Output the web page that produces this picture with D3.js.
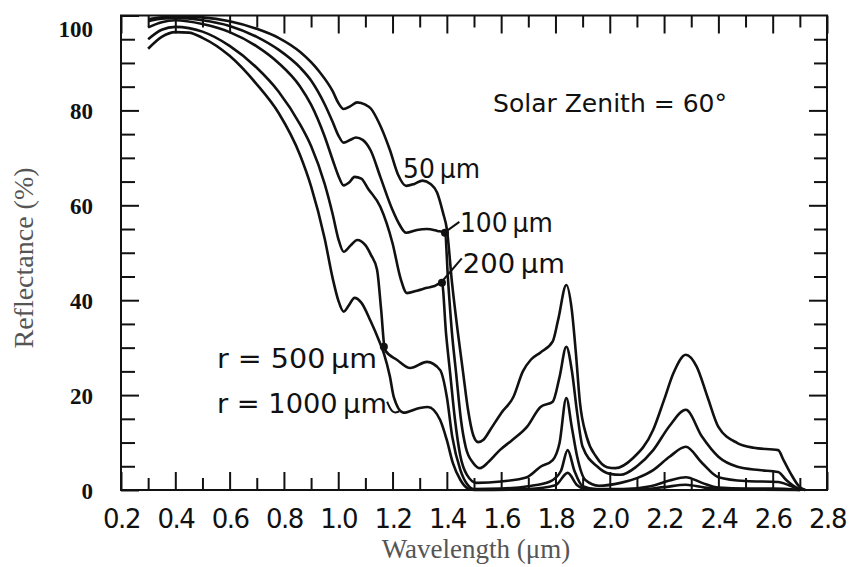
<!DOCTYPE html>
<html>
<head>
<meta charset="utf-8">
<script src="https://cdn.jsdelivr.net/npm/d3@7"></script>
<style>
  body { margin: 0; background: #fff; }
  svg { display: block; }
</style>
</head>
<body>
<svg id="chart" width="849" height="567"></svg>
<script>
// reflectance (%) vs wavelength (um), one list per grain radius
const r50 = [
  [0.30,99.2],[0.35,99.6],[0.40,99.8],[0.50,99.6],[0.60,98.8],[0.70,97.2],[0.78,95.3],[0.86,92.3],
  [0.93,88.2],[0.98,84],[1.00,81.6],[1.02,80.3],[1.045,80.9],[1.07,81.7],[1.10,81.2],[1.12,80.4],
  [1.15,77.4],[1.19,71.7],[1.22,66.5],[1.25,64.1],[1.28,64.5],[1.31,65.2],[1.34,64.5],[1.364,62.7],
  [1.386,58.4],[1.40,55],[1.419,43.7],[1.441,33],[1.46,24.7],[1.478,16.9],[1.497,11.6],[1.515,10.1],
  [1.535,10.6],[1.56,12.7],[1.60,16.2],[1.645,19.6],[1.68,25],[1.71,27.5],[1.745,29],[1.79,31.3],
  [1.81,35.9],[1.84,43.2],[1.86,38],[1.875,29],[1.89,18.5],[1.915,11.2],[1.95,7],[1.99,4.8],
  [2.02,4.6],[2.085,6.7],[2.16,12.7],[2.20,19],[2.235,24.7],[2.28,28.5],[2.32,26],[2.36,19.6],
  [2.40,13.3],[2.47,9.9],[2.53,8.9],[2.62,8.4],[2.64,6.3],[2.665,3.6],[2.70,0.6],[2.72,0]
];
const r100 = [
  [0.30,98.8],[0.35,99.3],[0.40,99.5],[0.50,99],[0.60,97.8],[0.70,95.5],[0.78,92.8],[0.86,89],
  [0.90,86.3],[0.95,81.3],[0.98,77.5],[1.00,74.8],[1.02,73.2],[1.045,73.8],[1.065,74.3],[1.09,73.8],
  [1.12,71.5],[1.155,66],[1.20,59],[1.225,56],[1.25,54.2],[1.29,54.8],[1.327,55],[1.365,54.6],
  [1.393,54.2],[1.405,43.7],[1.419,33],[1.434,24.7],[1.452,14.8],[1.47,8.9],[1.497,5.7],[1.522,4.6],
  [1.555,6],[1.595,8.4],[1.64,10.5],[1.695,13.3],[1.745,17.5],[1.79,18.6],[1.815,23.8],[1.84,30.2],
  [1.86,25.3],[1.88,16.2],[1.90,9.1],[1.955,4.9],[2.00,3.4],[2.04,3.2],[2.10,5],[2.16,8.4],
  [2.22,13.5],[2.28,16.9],[2.34,11.2],[2.40,7],[2.47,4.9],[2.55,4.2],[2.62,3.8],[2.65,2.1],
  [2.69,0.4],[2.72,0]
];
const r200 = [
  [0.30,97.5],[0.35,98.6],[0.40,99],[0.50,98.2],[0.60,96.5],[0.70,93.5],[0.78,90],[0.86,85],
  [0.90,81.2],[0.95,74.5],[0.98,69.5],[1.00,66.3],[1.02,64.2],[1.04,64.8],[1.06,66],[1.085,65.6],
  [1.11,63.5],[1.155,59.7],[1.20,52],[1.23,44.5],[1.253,41.5],[1.29,42],[1.327,42.6],[1.355,43],
  [1.382,43.7],[1.397,33],[1.412,24.7],[1.43,14.8],[1.449,7.4],[1.474,3.2],[1.51,1.5],[1.60,1.8],
  [1.695,2.7],[1.745,4.9],[1.79,6.3],[1.815,9.9],[1.84,19.4],[1.86,13.3],[1.88,7],[1.91,2.1],
  [1.96,0.9],[2.04,1.5],[2.10,2.5],[2.16,4.2],[2.22,7],[2.28,9.1],[2.34,5.7],[2.40,2.7],
  [2.50,1.9],[2.62,1.7],[2.66,1],[2.70,0]
];
const r500 = [
  [0.30,95],[0.35,97],[0.40,97.6],[0.50,96.6],[0.60,93.6],[0.70,89],[0.78,84],[0.86,77],
  [0.90,72.5],[0.95,64.5],[0.98,58],[1.00,53],[1.02,50.2],[1.045,51.5],[1.07,52.7],[1.10,51.6],
  [1.12,49.6],[1.143,46.4],[1.158,38],[1.172,29.5],[1.217,27.4],[1.265,25.7],[1.327,27],[1.375,25.3],
  [1.40,19.6],[1.42,11.2],[1.45,4.2],[1.475,1.2],[1.50,0.2],[1.60,0.3],[1.70,0.8],[1.78,1.8],
  [1.82,4],[1.845,8.4],[1.87,4],[1.90,0.8],[1.95,0.2],[2.05,0.2],[2.15,0.8],[2.22,2],
  [2.28,2.7],[2.34,1.5],[2.40,0.5],[2.50,0.3],[2.60,0.3],[2.70,0]
];
const r1000 = [
  [0.30,93],[0.35,95.5],[0.40,96.5],[0.45,96.4],[0.50,95.3],[0.60,91.5],[0.70,85.5],[0.78,79.5],
  [0.86,70.5],[0.90,64],[0.95,53],[0.98,44.5],[1.00,40],[1.02,37.6],[1.04,39],[1.06,40.5],
  [1.085,39.5],[1.12,35.5],[1.15,31.5],[1.168,28.8],[1.19,24],[1.205,19.5],[1.24,16.3],[1.30,17.3],
  [1.33,17.5],[1.375,14.8],[1.40,10.5],[1.422,5.7],[1.45,2.1],[1.475,0.4],[1.50,0],[1.70,0.2],
  [1.80,1],[1.845,3.6],[1.88,1],[1.92,0.1],[2.10,0.1],[2.20,0.6],[2.28,1.1],[2.35,0.5],
  [2.45,0.1],[2.70,0]
];

const seriesList = [r50, r100, r200, r500, r1000];

const xMajor = [0.2, 0.4, 0.6, 0.8, 1.0, 1.2, 1.4, 1.6, 1.8, 2.0, 2.2, 2.4, 2.6, 2.8];
const xTickLabels = ["0.2", "0.4", "0.6", "0.8", "1.0", "1.2", "1.4", "1.6", "1.8", "2.0", "2.2", "2.4", "2.6", "2.8"];
const xMinor = [0.3, 0.5, 0.7, 0.9, 1.1, 1.3, 1.5, 1.7, 1.9, 2.1, 2.3, 2.5, 2.7];
const yMajor = [0, 20, 40, 60, 80, 100];
const yMinor = [5, 10, 15, 25, 30, 35, 45, 50, 55, 65, 70, 75, 85, 90, 95];

// curve labels: text, start wavelength, baseline reflectance, width
const labels = [
  { text: "50\u2009\u03bcm", wl: 1.2385, r: 65.8, w: 77 },
  { text: "100\u2009\u03bcm", wl: 1.448, r: 54.4, w: 93 },
  { text: "200\u2009\u03bcm", wl: 1.459, r: 45.7, w: 102 },
  { text: "r = 500\u2009\u03bcm", wl: 0.5535, r: 25.7, w: 160 },
  { text: "r = 1000\u2009\u03bcm", wl: 0.5535, r: 16.2, w: 170 }
];
// pointer dots on curves
const dots = [[1.393, 54.2], [1.382, 43.7], [1.168, 30.2]];
// pointer lines [from, to]
const pointers = [
  [[1.400, 54.6], [1.446, 56.5]],
  [[1.386, 44.2], [1.455, 48.8]]
];

const svg = d3.select("#chart");
const x = d3.scaleLinear().domain([0.2, 2.8]).range([121, 827]);
const y = d3.scaleLinear().domain([0, 100]).range([490, 15.5]);

const tickFont = "'DejaVu Sans', sans-serif";

// frame
svg.append("rect")
  .attr("x", x(0.2)).attr("y", y(100))
  .attr("width", x(2.8) - x(0.2)).attr("height", y(0) - y(100))
  .attr("fill", "none").attr("stroke", "#111").attr("stroke-width", 2);

function styleAxis(g) {
  g.select(".domain").remove();
  g.selectAll(".tick line").attr("stroke", "#111").attr("stroke-width", 2);
}

// bottom
svg.append("g").attr("transform", `translate(0,${y(0)})`)
  .call(d3.axisBottom(x).tickValues(xMajor).tickSizeInner(-18).tickSizeOuter(0).tickPadding(20)
    .tickFormat((d, i) => xTickLabels[i]))
  .call(styleAxis)
  .call(g => g.selectAll("text").attr("font-family", tickFont).attr("font-size", 26)
    .attr("fill", "#111").attr("letter-spacing", -1.5));
svg.append("g").attr("transform", `translate(0,${y(0)})`)
  .call(d3.axisBottom(x).tickValues(xMinor).tickSizeInner(-12).tickSizeOuter(0).tickFormat(""))
  .call(styleAxis);
// top
svg.append("g").attr("transform", `translate(0,${y(100)})`)
  .call(d3.axisTop(x).tickValues(xMajor).tickSizeInner(-18).tickSizeOuter(0).tickFormat(""))
  .call(styleAxis);
svg.append("g").attr("transform", `translate(0,${y(100)})`)
  .call(d3.axisTop(x).tickValues(xMinor).tickSizeInner(-12).tickSizeOuter(0).tickFormat(""))
  .call(styleAxis);
// left
svg.append("g").attr("transform", `translate(${x(0.2)},0)`)
  .call(d3.axisLeft(y).tickValues(yMajor).tickSizeInner(-18).tickSizeOuter(0).tickPadding(28))
  .call(styleAxis)
  .call(g => g.selectAll("text").attr("font-family", "'Liberation Serif', serif")
    .attr("font-weight", "bold").attr("font-size", 23).attr("fill", "#111")
    .attr("dy", d => d === 100 ? "0.9em" : "0.35em"));
svg.append("g").attr("transform", `translate(${x(0.2)},0)`)
  .call(d3.axisLeft(y).tickValues(yMinor).tickSizeInner(-14).tickSizeOuter(0).tickFormat(""))
  .call(styleAxis);
// right
svg.append("g").attr("transform", `translate(${x(2.8)},0)`)
  .call(d3.axisRight(y).tickValues(yMajor.filter(v => v > 0 && v < 100)).tickSizeInner(-18).tickSizeOuter(0).tickFormat(""))
  .call(styleAxis);
svg.append("g").attr("transform", `translate(${x(2.8)},0)`)
  .call(d3.axisRight(y).tickValues(yMinor).tickSizeInner(-13).tickSizeOuter(0).tickFormat(""))
  .call(styleAxis);

// axis titles
svg.append("text")
  .attr("x", (x(0.2) + x(2.8)) / 2 + 2).attr("y", 558)
  .attr("text-anchor", "middle")
  .attr("font-family", "'Liberation Serif', serif").attr("font-size", 27).attr("fill", "#555")
  .text("Wavelength (\u03bcm)");
svg.append("text")
  .attr("transform", `translate(33,258) rotate(-90)`)
  .attr("text-anchor", "middle")
  .attr("font-family", "'Liberation Serif', serif").attr("font-size", 28).attr("fill", "#555")
  .text("Reflectance (%)");

// curves
const line = d3.line()
  .x(d => x(d[0]))
  .y(d => y(d[1]))
  .curve(d3.curveMonotoneX);

svg.append("g").selectAll("path")
  .data(seriesList)
  .join("path")
  .attr("d", line)
  .attr("fill", "none")
  .attr("stroke", "#111")
  .attr("stroke-width", 2.6)
  .attr("stroke-linejoin", "round");

// annotations
svg.append("text")
  .attr("x", x(1.57)).attr("y", y(79.7))
  .attr("font-family", tickFont).attr("font-size", 25).attr("fill", "#111")
  .attr("textLength", 234).attr("lengthAdjust", "spacingAndGlyphs")
  .text("Solar Zenith = 60\u00b0");

svg.append("g").selectAll("text")
  .data(labels)
  .join("text")
  .attr("x", d => x(d.wl)).attr("y", d => y(d.r))
  .attr("font-family", tickFont).attr("font-size", 27).attr("fill", "#111")
  .attr("textLength", d => d.w).attr("lengthAdjust", "spacingAndGlyphs")
  .text(d => d.text);

svg.append("g").selectAll("line")
  .data(pointers)
  .join("line")
  .attr("x1", d => x(d[0][0])).attr("y1", d => y(d[0][1]))
  .attr("x2", d => x(d[1][0])).attr("y2", d => y(d[1][1]))
  .attr("stroke", "#111").attr("stroke-width", 2);

svg.append("g").selectAll("circle")
  .data(dots)
  .join("circle")
  .attr("cx", d => x(d[0])).attr("cy", d => y(d[1]))
  .attr("r", 4).attr("fill", "#111");

// hooked tail from the 1000 um label to its curve
const tail = [[1.18, 18.6], [1.20, 16.0], [1.225, 16.6]];
svg.append("path")
  .attr("d", d3.line().x(d => x(d[0])).y(d => y(d[1])).curve(d3.curveBasis)(tail))
  .attr("fill", "none").attr("stroke", "#111").attr("stroke-width", 2);
</script>
</body>
</html>
